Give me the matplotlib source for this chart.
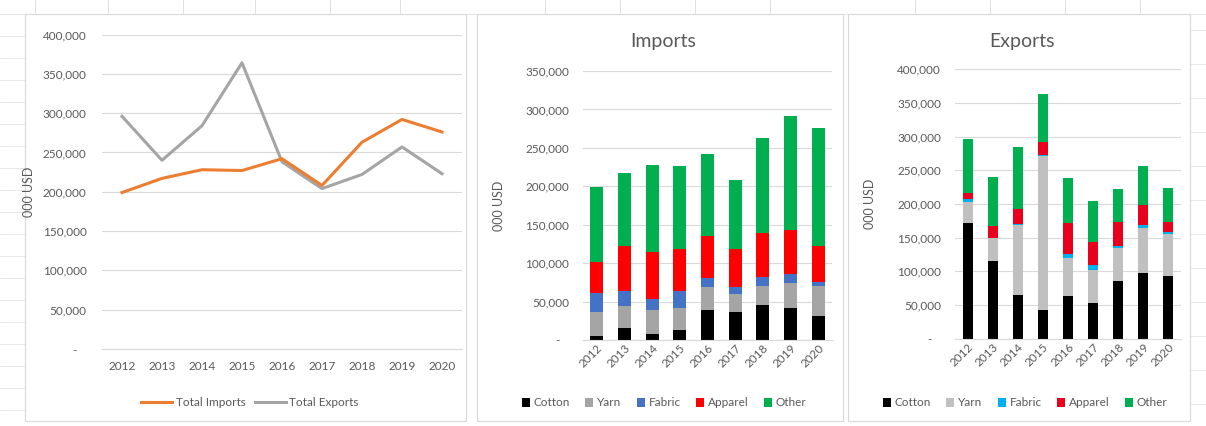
import numpy as np
import matplotlib.pyplot as plt
from matplotlib.patches import Rectangle
from matplotlib.lines import Line2D
from matplotlib.ticker import FuncFormatter

plt.rcParams['font.family'] = ['Lato', 'DejaVu Sans']

years = ['2012', '2013', '2014', '2015', '2016', '2017', '2018', '2019', '2020']
parts = ['Cotton', 'Yarn', 'Fabric', 'Apparel', 'Other']

# values in 000 USD
imp_cotton = [5600, 15600, 7800, 13400, 39000, 36800, 46000, 41600, 31600]
imp_yarn = [30400, 29000, 31200, 28200, 30000, 23000, 24600, 32100, 39000]
imp_fabric = [25000, 19400, 14000, 22400, 11600, 9200, 11400, 12100, 4400]
imp_apparel = [40000, 58700, 62000, 54000, 55100, 50000, 57000, 57700, 47700]
imp_other = [98000, 94300, 113000, 109000, 106300, 89000, 124000, 148500, 153300]

exp_cotton = [171000, 115000, 64400, 42000, 63000, 53000, 85000, 96600, 92600]
exp_yarn = [32000, 33700, 104100, 229000, 57000, 48600, 49000, 66900, 63400]
exp_fabric = [4000, 1300, 1500, 1000, 6000, 7400, 3000, 5000, 2500]
exp_apparel = [9500, 17500, 22000, 20000, 45000, 34600, 35500, 29500, 14500]
exp_other = [79500, 72500, 92000, 72000, 67000, 60400, 49500, 59000, 50000]

imp_cols = ['#000000', '#A5A5A5', '#4472C4', '#FF0000', '#00B050']
exp_cols = ['#000000', '#C0C0C0', '#00B0F0', '#E8001C', '#00B050']

imports = np.array([imp_cotton, imp_yarn, imp_fabric, imp_apparel, imp_other])
exports = np.array([exp_cotton, exp_yarn, exp_fabric, exp_apparel, exp_other])
total_imports = imports.sum(axis=0)
total_exports = exports.sum(axis=0)

W, H = 1206, 426
fig = plt.figure(figsize=(W / 100, H / 100), dpi=100)
txt = '#595959'
grid = '#D9D9D9'


def fx(px):
    return px / W


def fy(py):
    return 1 - py / H


# spreadsheet cells behind the charts
for y in np.arange(14, H, 22):
    fig.add_artist(Line2D([0, fx(25)], [fy(y), fy(y)], color='#E4E4E4', lw=0.6, zorder=-3))
for y in np.arange(30, H, 34):
    fig.add_artist(Line2D([fx(1190), 1], [fy(y), fy(y)], color='#E4E4E4', lw=0.6, zorder=-3))
for x in [35, 108, 183, 255, 330, 400, 545, 620, 695, 770, 915, 990, 1065, 1140]:
    fig.add_artist(Line2D([fx(x), fx(x)], [fy(0), fy(14)], color='#DADADA', lw=0.6, zorder=-3))
fig.add_artist(Line2D([0, 1], [fy(14), fy(14)], color='#E4E4E4', lw=0.6, zorder=-3))

# chart areas
for x0, x1 in [(25, 466), (477, 843), (848, 1190)]:
    fig.add_artist(Rectangle((fx(x0), fy(421)), fx(x1 - x0), (421 - 14) / H,
                             facecolor='white', edgecolor='#D9D9D9', lw=0.8, zorder=-1))


def fmt(v, pos):
    return ' -   ' if v == 0 else f'{int(v):,}'


def style(ax, top):
    ax.set_ylim(0, top)
    ax.set_xlim(-0.5, len(years) - 0.5)
    ax.set_yticks(np.arange(0, top + 1, 50000))
    ax.yaxis.set_major_formatter(FuncFormatter(fmt))
    ax.grid(axis='y', color=grid, lw=0.8)
    ax.set_axisbelow(True)
    for s in ['top', 'right', 'left']:
        ax.spines[s].set_visible(False)
    ax.spines['bottom'].set_color(grid)
    ax.tick_params(length=0, colors=txt, labelsize=8.5)
    ax.set_facecolor('none')


# totals line chart
ax1 = fig.add_axes([fx(102), fy(349), fx(462 - 102), (349 - 34.5) / H])
x = np.arange(len(years))
ax1.plot(x, total_imports, color='#ED7D31', lw=2.2, label='Total Imports', zorder=3)
ax1.plot(x, total_exports, color='#A5A5A5', lw=2.2, label='Total Exports', zorder=2)
style(ax1, 400000)
ax1.set_xticks(x, years)
ax1.tick_params(axis='y', pad=11)
ax1.tick_params(axis='x', pad=9)
ax1.set_ylabel('000 USD', color=txt, fontsize=9)
ax1.yaxis.set_label_coords(fx(35 - 102) / fx(462 - 102), 0.5)
fig.legend(*ax1.get_legend_handles_labels(), loc='center', bbox_to_anchor=(fx(250), fy(403)),
           ncol=2, frameon=False, fontsize=8.5, handlelength=2.6, columnspacing=0.8,
           handletextpad=0.3, labelcolor=txt)


def stacked(ax, data, cols, top, title, title_x, leg_x, left, right, ylab_x, width):
    bottom = np.zeros(len(years))
    for vals, col, name in zip(data, cols, parts):
        ax.bar(x, vals, width, bottom=bottom, color=col, label=name, zorder=2)
        bottom += vals
    style(ax, top)
    ax.set_xticks(x, years, rotation=45, ha='right', va='top', rotation_mode='anchor')
    ax.tick_params(axis='y', pad=10)
    ax.tick_params(axis='x', pad=2)
    ax.set_ylabel('000 USD', color=txt, fontsize=9)
    ax.yaxis.set_label_coords((ylab_x - left) / (right - left), 0.5)
    fig.text(fx(title_x), fy(42), title, ha='center', va='center', fontsize=14, color=txt)
    fig.legend(*ax.get_legend_handles_labels(), loc='center', bbox_to_anchor=(fx(leg_x), fy(403)),
               ncol=5, frameon=False, fontsize=8.5, handlelength=0.7, handleheight=0.7,
               columnspacing=1.3, handletextpad=0.3, labelcolor=txt)


ax2 = fig.add_axes([fx(583), fy(340), fx(832 - 583), (340 - 71) / H])
stacked(ax2, imports, imp_cols, 350000, 'Imports', 663, 664, 583, 832, 505, 0.46)

ax3 = fig.add_axes([fx(955), fy(338.5), fx(1181 - 955), (338.5 - 69.3) / H])
stacked(ax3, exports, exp_cols, 400000, 'Exports', 1022, 1025, 955, 1181, 876, 0.40)

fig.savefig('out.png', dpi=100, facecolor='white')
